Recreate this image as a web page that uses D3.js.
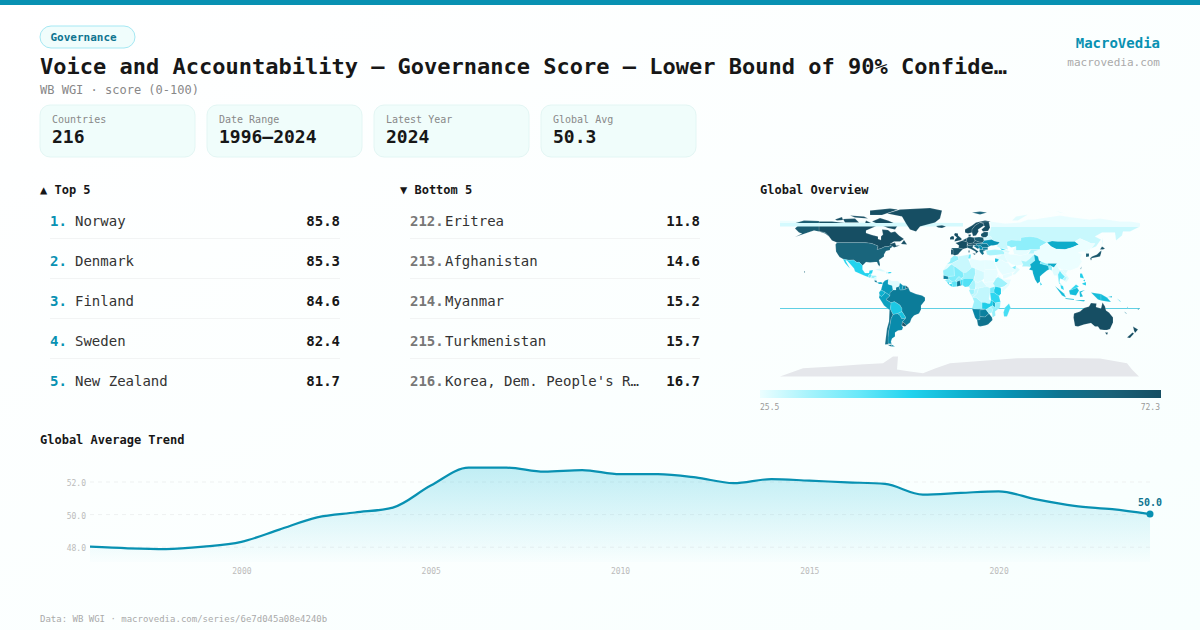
<!DOCTYPE html>
<html><head><meta charset="utf-8">
<script src="https://cdn.jsdelivr.net/npm/d3@7"></script>
<style>
html,body{margin:0;padding:0;width:1200px;height:630px;overflow:hidden;background:#fff}
svg{display:block}
text{font-family:"DejaVu Sans Mono",monospace}
</style></head><body>
<svg id="c" width="1200" height="630"></svg>
<script>
// ---------- data ----------
const statLabels=["Countries","Date Range","Latest Year","Global Avg"];
const statValues=["216","1996–2024","2024","50.3"];
const topRanks=["1.","2.","3.","4.","5."];
const topNames=["Norway","Denmark","Finland","Sweden","New Zealand"];
const topValues=[85.8,85.3,84.6,82.4,81.7];
const bottomRanks=["212.","213.","214.","215.","216."];
const bottomNames=["Eritrea","Afghanistan","Myanmar","Turkmenistan","Korea, Dem. People's R…"];
const bottomValues=[11.8,14.6,15.2,15.7,16.7];
const trendYears=d3.range(1996,2025);
const trendValues=[48.0,47.9,47.85,48.0,48.3,49.05,49.8,50.1,50.4,51.75,52.85,52.85,52.6,52.7,52.45,52.45,52.25,51.9,52.15,52.05,51.95,51.85,51.2,51.3,51.4,50.9,50.5,50.3,50.0];
const trendTicks=[48,50,52];
const yearTicks=[2000,2005,2010,2015,2020];
const legendStops=["#ecfeff","#a5f3fc","#67e8f9","#22d3ee","#0fb2d0","#0891b2","#0e7490","#1b6278","#164e63"];
const scoreRange=[25.5,72.3];

// map: name | score | rings as "lon,lat lon,lat ..."
const bandRows=[
 ["Russia (upper wrap)",25.5,"-180,68.7 -180,70.8 -60,69.5 3,68.7"],
];
const northAmerica=[
 ["Canada",72.3,"-141,70 -128,70 -115,68.6 -108,68.5 -95,68 -94,71 -88,68 -82,69 -81,67 -87,64 -94,61 -94,58.5 -88,56.5 -82,55 -82,52.5 -79,51.5 -79,55 -77,57 -78,62 -72,61.5 -69,59 -65,60 -61,56 -56,52.5 -60,50 -66,50 -70,47.5 -65,49 -64,46 -60,46 -66,44 -67,45 -70,46 -71,45 -75,45 -79,43 -83,42 -82,45.5 -88,48 -95,49 -123,49 -128,51 -131,55 -135,59 -141,60"],
 ["Canada",72.3,"-80,73.5 -72,71 -62,66.5 -65,62 -72,63.5 -78,66 -88,70"],
 ["Canada",72.3,"-117,72.5 -105,73 -101,69 -115,69"],
 ["Canada",72.3,"-90,76.5 -78,76.5 -62,82 -70,83 -90,81"],
 ["Canada",72.3,"-125,72 -118,74.5 -117,71.5 -123,71"],
 ["Canada",72.3,"-110,76 -96,75 -92,73 -105,74"],
 ["Canada",72.3,"-59,47.7 -53,47 -56,51.5"],
 ["United States",68,"-141,70.5 -156,71 -166,68 -162,66 -165,63 -161,59 -158,58 -165,54.5 -152,59 -146,61 -141,60 -135,59 -131,55 -135,58 -141,60"],
 ["United States",65.5,"-123,49 -95,49 -88,48 -82,45.5 -83,42 -79,43 -75,45 -71,45 -70,46 -67,45 -70,43 -70,41.5 -74,40.5 -76,37 -76,35 -81,31.5 -80,27 -80.5,25 -82,27 -83,29.5 -85,29.5 -90,29 -94,29.5 -97.5,26 -101,29.5 -103,29 -106.5,31.7 -111,31.3 -117,32.5 -120.5,34.5 -124,40 -124.5,47"],
 ["United States",65.5,"-156,20.5 -154.8,19.5 -156,18.9"],
];
const bandOver=[
 ["Russia (wrap)",27.5,"-180,65 -180,68.7 3,68.7 3,65"],
];
const countries=[
 ["Greenland",72.3,"-73,78 -60,82 -30,83.6 -18,81 -20,73 -25,69 -40,65 -44,60 -50,62 -54,68 -58,75"],
 ["Iceland",72.3,"-24,65.5 -18,66.4 -14,65 -18,63.5 -22,64"],
 ["Svalbard",66,"12,79 20,80 27,79 20,77"],
 ["Mexico",43,"-117,32.5 -111,31.3 -106.5,31.7 -103,29 -101,29.5 -97.5,26 -97.5,22 -95,18.5 -91,18.5 -90.5,21 -87,21.5 -88,18 -91,17 -92,14.5 -96,16 -105,20 -106,23 -109,26.5 -113,31 -114.5,31 -112,26.5 -110,23 -112,25 -115,28.5"],
 ["Guatemala",38,"-92,14.5 -91,17 -89,17.8 -88.5,16 -90,13.7"],
 ["Honduras",33,"-88.5,16 -84,15.8 -83.2,15 -87,13 -88.5,14"],
 ["Nicaragua",27,"-87,13 -83.2,15 -83.7,11 -85.7,11"],
 ["Costa Rica",60,"-85.7,11 -83.7,11 -82.7,9 -85,9.5"],
 ["Panama",50,"-83,9 -79,9.5 -77.3,8.5 -78,7.5 -81,7.5"],
 ["El Salvador",36,"-90,13.7 -88.5,14 -87.8,13.3"],
 ["Cuba",27,"-85,22 -80,23 -74,20 -78,20"],
 ["Haiti",28,"-74,19.8 -71.7,19.7 -71.7,18.2 -74,18.2"],
 ["Dominican Rep.",43,"-71.7,19.7 -69,19.5 -68.5,18.5 -71.7,18.2"],
 ["Colombia",53,"-77.3,8.5 -75,11 -71.5,12.4 -72,7.5 -67.5,6 -67,1.5 -70,-1 -70,-4.2 -75,-0.5 -79,1.5 -77.5,7"],
 ["Venezuela",26.5,"-71.5,12.4 -68,10.5 -62,10.5 -60,8.5 -61,5 -64,4 -64,1.5 -67,1.5 -67.5,6 -72,7.5"],
 ["Guyana",54,"-60,8.5 -57,6 -58,1.5 -60,1.5 -61,5"],
 ["Suriname",56,"-57,6 -54,5.8 -54.5,2.3 -58,1.5"],
 ["French Guiana",70,"-54,5.8 -51.7,4 -54.5,2.3"],
 ["Ecuador",49,"-79,1.5 -75,-0.5 -75.5,-2 -78.5,-5 -80.5,-3.5 -81,-1"],
 ["Peru",52,"-75,-0.5 -70,-4.2 -74,-8 -69,-11 -69,-12.5 -69.5,-17.5 -70.5,-18.3 -76,-14 -81,-6 -80.5,-3.5 -78.5,-5 -75.5,-2"],
 ["Bolivia",45,"-69,-11 -65.5,-10 -60,-13.5 -58,-17 -58,-20 -62.5,-22 -67,-23 -69,-19 -69.5,-17.5 -69,-12.5"],
 ["Brazil",59,"-51.7,4 -50,0 -44,-2.5 -38,-4 -35,-6 -35,-9 -39,-14 -39,-18 -41,-22 -46,-24 -48.5,-27 -50,-31 -53.5,-33.7 -57.5,-30 -54.7,-27 -54.5,-25.5 -55.5,-24 -58,-20 -58,-17 -60,-13.5 -65.5,-10 -69,-11 -74,-8 -70,-4.2 -70,-1 -67,1.5 -64,1.5 -64,4 -61,5 -60,1.5 -58,1.5 -54.5,2.3"],
 ["Paraguay",46,"-62.5,-22 -58,-20 -55.5,-24 -54.5,-25.5 -54.7,-27 -58.5,-27 -60,-24"],
 ["Uruguay",70,"-57.5,-30 -53.5,-33.7 -55,-35 -58.3,-34"],
 ["Argentina",56,"-67,-23 -62.5,-22 -60,-24 -58.5,-27 -54.7,-27 -57.5,-30 -58.3,-34 -57,-36 -58,-38.5 -62,-39 -65,-41 -65,-45 -68,-47 -69,-50 -68.5,-52.5 -72,-52 -72,-46 -71.5,-40 -70,-33 -69,-27"],
 ["Argentina",56,"-68.5,-52.8 -65,-55 -68.5,-55"],
 ["Chile",62,"-69.5,-17.5 -69,-19 -67,-23 -69,-27 -70,-33 -71.5,-40 -72,-46 -72,-52 -68.5,-52.5 -75,-53 -74,-45 -73,-37 -71,-30 -70.5,-18.3"],
 ["Chile",62,"-72,-54 -68.5,-52.8 -68.5,-55"],
 ["Norway",72.3,"5,59 5,62 12,66 16,69 25,71 31,70 28,69.5 20,69 15,66 12,62 12,59 8,58"],
 ["Sweden",72.3,"12,59 12,62 15,66 20,69 23.5,68 24,66 18,62 18.5,60 16,56 13,55.5"],
 ["Finland",72.3,"23.5,68 20.5,69 28,70 29,69 30,64 28,60.5 23,60 21.5,62 25,65 24,66"],
 ["Denmark",72.3,"8.5,57 11,57 10.5,55 8.5,55"],
 ["United Kingdom",72.3,"-5.5,50 1.5,51.5 1.5,53 -2,56 -2,58 -5,58.5 -6,56.5 -3,54 -5,52"],
 ["Ireland",72.3,"-10,52 -6,52 -6,55 -8,55.5 -10,54"],
 ["France",72.3,"-1.5,43.5 3,42.5 7.5,43.8 7,46 7,48 8,49 6,50 2.5,51 -1.5,49.5 -4.5,48.5 -1,46"],
 ["Spain",70,"-9,43.5 -1.5,43.5 3,42.5 0,39.5 -2,37 -5.5,36 -7,37 -7,42"],
 ["Portugal",71,"-9,42 -7,42 -7,37 -9,37"],
 ["Benelux",72.3,"2.5,51 4,52 7,53.5 6,50"],
 ["Germany",72.3,"7,53.5 9,54.8 14,54 15,51 13,48.5 8,47.7 7,48 8,49 6,50"],
 ["Poland",68,"14,54 19,54.5 23.5,54 24,50.5 22.5,49 19,49.5 15,51"],
 ["Czechia",70,"13,48.5 15,51 19,49.5 22.5,49 22,48 17,48"],
 ["Austria",72.3,"7,46 8,47.7 13,48.5 17,48 16,46.5 10,46.5"],
 ["Italy",69,"7.5,43.8 7,46 13.5,46.5 12.5,44 18.5,40 16,38 15.5,40 11,42.5"],
 ["Italy",69,"12.5,38 15.5,38 15,36.7"],
 ["Italy",69,"8.5,41 9.7,41 9.5,39 8.5,39"],
 ["Hungary",60,"16,46.5 17,48 22,48 22.5,46 18.5,45.8"],
 ["Romania",60,"22,48 27,48 29,45 27.5,44 22.5,44 20.5,46"],
 ["Bulgaria",59,"22.5,44 27.5,44 28,42 23,41.5"],
 ["Serbia",55,"18.5,45.8 20.5,46 22.5,44 22.5,42 20,42 19,44"],
 ["Croatia",61,"13.5,45.5 16,46.5 18.5,45.8 19,44 18,42.5 15,44.5"],
 ["Greece",62,"19.5,42 22.5,42 23,41.5 26,41 23,40 24,38 22.5,36.5 21,38 19.5,40"],
 ["Baltics",70,"21,57.5 24,59.5 28,59.5 28,56 26,54 23.5,54 21,55.5"],
 ["Belarus",27.5,"23.5,54 26,54 28,56 31,55 32,52 24,51"],
 ["Ukraine",54,"24,50.5 24,51 32,52 35,50.5 40,49.5 38,47 33,46 31,46 29,45 27,48 22,48 22.5,49"],
 ["Turkey",31,"26,41 29,41.3 35,42 42,41.3 44.5,39.5 44.5,37 36,36.5 30,36.2 27,37"],
 ["Georgia",42,"40,43.5 46,41.8 42,41.3"],
 ["Azerbaijan",27,"42,41.3 46,41.8 50,40 48,38.5 44.5,39.5"],
 ["Russia",28.5,"28,59.5 28,56 31,55 32,52 35,50.5 40,49.5 38,47 37,45 40,43.5 48,42 47,46 49,46 47,50 51,51.5 61,51 61,54 70,55 77,54 83,51 87,49 92,50.5 98,50 107,50 115,50 120,53 127,50 131,48 135,48 131,43 136,45 141,52 135,55 142,59 155,59 156,51 162,56 163,60 170,60 180,65 31,65 30,60"],
 ["Russia north",25.8,"30,70 45,68 60,69 68,72 75,72 80,73 100,76 113,74 130,72 140,73 160,70 170,70 180,68.5 180,65 31,65"],
 ["Russia north",26.5,"52,71 56,75 68,77 58,71"],
 ["Russia north",26.5,"100,79 105,78 95,81"],
 ["Russia north",26.5,"142,54 143,50 142,46"],
 ["Kazakhstan",33.5,"47,50 51,51.5 61,51 61,54 70,55 77,54 83,51 87,49 80,45 80,42 71,42 66,41 56,41 56,45 51,44 53,42 50,45 47,46"],
 ["Mongolia",50,"87,49 92,50.5 98,50 107,50 115,50 119,47 112,44 105,42 96,42.5 91,45"],
 ["China",25.5,"80,45 87,49 91,45 96,42.5 105,42 112,44 119,47 115,50 120,53 127,50 131,48 135,48 131,43 125,40 122,40 118,39 122,37 120,33 122,30 118,24 110,21 108,21.5 102,22 98,24 97,28 92,28 88,28 86,28 81,30 78,34 74,38 74,40 80,42"],
 ["North Korea",25.5,"125,40 131,43 129,40 127,38 125,38"],
 ["South Korea",68,"126,38 129,38 129,35 126,34.5"],
 ["Japan",70,"130,33 135,34 140,35 141,38 141.5,41 140,40 137,37 132,35"],
 ["Japan",70,"140,42 142,45 145,43 143,42"],
 ["Japan",70,"130,33.5 132,33 131,31"],
 ["Taiwan",62,"120.5,23 121.5,25 121,22"],
 ["Uzbekistan",26,"56,45 56,41 66,41 71,42 67,37.5 61,36 54,37.5 53,42"],
 ["Kyrgyzstan",30,"71,42 80,42 74,40 74,38 68,37"],
 ["Iran",26,"44.5,39.5 48,38.5 50,37 54,37 61,36 61,31 63,27 57,26 52,27 48,30 46,33 44.5,37"],
 ["Afghanistan",26,"61,36 67,37.5 71,38 74,37 70,33 66,30 61,31"],
 ["Pakistan",31,"74,37 78,34 75,31 70,27 71,24.5 67,25 62,25 63,27 61,31 66,30 70,33"],
 ["India",50,"74,37 78,35 79,31 81,30 80,28 88,26 88,28 92,28 97,28 94,24 92,25 90,26 89,22 87,21 82,17 80,15 80,10 77.5,8 75,12 73,18 72.5,21 69,22 71,24.5 70,27 75,31"],
 ["Nepal",35,"81,30 86,28 88,28 88,26 80,28"],
 ["Bangladesh",33,"88,26 90,26 92,25 92,21 89,22"],
 ["Myanmar",26.5,"92,21 94,24 97,28 98,24 100,21 98,17 98.5,11 97,16 94,16"],
 ["Thailand",37,"98,17 100,21 102,18 105,15 102.5,12 100,13 99.5,9 102,6 99,8 98.5,11"],
 ["Laos",26.5,"100,21 102,22 107,16 105,15 102,18"],
 ["Vietnam",26.5,"102,22 108,21.5 106,18 109,13 106,9 105,10.5 107,14 105,15 107,16"],
 ["Cambodia",30,"102.5,12 105,15 107,14 105,10.5"],
 ["Malaysia",42,"100.5,6.5 103,5.5 104,1.5 101,3"],
 ["Malaysia",42,"109.5,1 116,7 119,5 117,4 115,3"],
 ["Indonesia",47,"109,1 110,-3 116,-4 119,1 117,4 115,3"],
 ["Indonesia",47,"95,5.5 104,-2 106,-6 102,-4"],
 ["Indonesia",47,"105,-6.5 114,-7.5 114,-8.5 106,-7.5"],
 ["Indonesia",47,"119.5,0 125,1.5 121,-1 123,-5 120,-5.5"],
 ["Indonesia",47,"131,-1 141,-2.5 141,-9 138,-8 134,-4"],
 ["Indonesia",47,"115,-8.5 125,-8.5 124,-10 117,-9"],
 ["Papua New Guinea",47,"141,-2.5 147,-6 151,-10.5 147,-10 141,-9"],
 ["Papua New Guinea",47,"148,-5.5 152,-4.5 152,-6"],
 ["Philippines",44,"120,18 122,18 124,13 120,14"],
 ["Philippines",44,"122,8 126,9.5 126,6 123,7"],
 ["Philippines",44,"123,11 125,12 125,10"],
 ["Sri Lanka",44,"80,9.5 82,7 80.5,6"],
 ["Solomon Islands",43,"157,-7 161,-10 160,-10"],
 ["Vanuatu",50,"167,-15 168,-17 167,-16.5"],
 ["New Caledonia",60,"164,-20 167,-22 166,-22"],
 ["Fiji",60,"177.5,-17.5 179,-17 178.5,-18.5"],
 ["Australia",72.3,"114,-22 113.5,-26 115,-34.5 118,-35 124,-33 131,-31.5 135,-35 138,-35 140,-38 144,-38.5 147,-38.5 150,-37.5 153,-31 153,-26 149,-21 146,-19 145,-15 142.5,-11 141,-17 136,-15.5 136.5,-12 131,-11.5 129,-15 124,-16.5 120,-20"],
 ["Australia",72.3,"145,-41 148,-41 147,-43.5"],
 ["New Zealand",72.3,"173,-35 178,-38 175,-41.5 174,-39"],
 ["New Zealand",72.3,"172.5,-41 174,-42 170,-46.5 167,-46"],
 ["Saudi Arabia",26,"37,31.5 39,32 42,31.5 46,29 48,29 50,26 52,24 55.5,22 55,20 52,19 44,17 42.5,16.5 39,21 35,28"],
 ["Yemen",26,"43,16.5 52,19 52,16 45,13 43,13"],
 ["Oman",26.5,"56,25 60,22 55,17 52,17 55,20 55.5,22"],
 ["UAE",34,"52,24 56,26 55.5,22"],
 ["Iraq",26.5,"39,32 36,33 42,37 44.5,37 46,33 48,30 46,29 42,31.5"],
 ["Syria",25.5,"36,36.5 42,37 36,33 36,33.3"],
 ["Israel",46,"35,33.3 36,33 39,32 37,29.5 35,29.5"],
 ["Morocco",33,"-6,36 -2,35 -1,32 -8.5,28 -13,27.7 -10,30 -9.5,33"],
 ["Western Sahara",26,"-13,27.7 -8.7,27.3 -13,23 -17,21"],
 ["Algeria",28.5,"-2,35 9,37 8,33 9.5,30 12,24 6,19 3,19 -5,25 -8.7,27.3 -8.5,28 -1,32"],
 ["Tunisia",37,"9,37 11,37 10.5,33 8,33"],
 ["Libya",26,"11,33 15,32 20,31 25,31.5 25,20 24,19.5 15,23 12,24 9.5,30"],
 ["Egypt",26,"25,31.5 34,31 37,22 25,22"],
 ["Mauritania",33,"-17,21 -13,23 -8.7,27.3 -5,25 -6,25 -5.5,15.5 -12,15 -16.5,16"],
 ["Mali",35,"-5,25 3,19 4,15 1,13 -1,15 -3,13 -5,10.5 -8,10 -11.5,12.5 -12,15 -5.5,15.5 -6,25"],
 ["Niger",32,"3,19 6,19 12,24 15,23 15.5,18 14,13 4,13 3,12 1,13 4,15"],
 ["Senegal",58,"-16.5,16 -12,15 -11.5,12.5 -16.5,12.5"],
 ["Guinea",33,"-15,11 -13,12.5 -11.5,12.5 -8,10 -8,8 -10.5,9 -13,9.5"],
 ["Sierra Leone",42,"-13,9.5 -10.5,9 -11.5,7"],
 ["Liberia",42,"-11.5,7 -8,8 -7.5,4.5"],
 ["Ivory Coast",38,"-8,10 -5,10.5 -3,10 -3,5 -7.5,4.5 -8,8"],
 ["Burkina Faso",33,"-5,10.5 -3,13 -1,15 1,13 2,12 0,11 -3,10"],
 ["Ghana",60,"-3,10 0,11 1,6 -3,5"],
 ["Benin",40,"0,11 2,12 3,12 2.7,6.3 1,6"],
 ["Nigeria",39,"3,12 4,13 14,13 13,11 9,5 5,4.5 2.7,6.3"],
 ["Cameroon",31,"14,13 15,10 16,7 15,2 10,2.3 9,5 13,11"],
 ["Chad",27.5,"15,23 24,19.5 24,13 22,11 18,9 15,10 14,13 15.5,18"],
 ["Central African Rep.",27.5,"15,10 18,9 22,11 27,5 19,3.5 16,3"],
 ["Sudan",26,"25,22 37,22 38,18 36,13 33,10 24,9 24,13 24,19.5 25,20"],
 ["South Sudan",26,"24,9 33,10 35,5 30,3.5 27,5 22,11"],
 ["Eritrea",25.5,"37,18 43,12.5 38,14.5"],
 ["Ethiopia",32,"36,13 38,14.5 42.5,12 48,8 44,5 40,4 35,5 33,8"],
 ["Somalia",26,"42.5,12 51,12 49,6 42,-1 41,3 44,5 48,8"],
 ["Kenya",44,"35,5 40,4 41,3 41,-2 39,-4.5 34,-1 34,2"],
 ["Uganda",36,"30,3.5 35,5 34,2 34,-1 30,-1"],
 ["Tanzania",42,"30,-1 34,-1 39,-4.5 40.5,-10.5 35,-11.5 33,-9.5 31,-8.5"],
 ["DR Congo",29,"19,3.5 27,5 30,3.5 30,-1 29,-8 31,-8.5 30,-12 28,-12 25,-11 22,-11 16,-6 12.5,-6 17,-2 18,2"],
 ["Congo",29,"16,3 19,3.5 18,2 17,-2 12.5,-6 11,-3.5 14,-2 14,1.5 15,2"],
 ["Gabon",32,"9,1 10,2.3 15,2 14,1.5 14,-2 11,-3.5"],
 ["Zambia",44,"22,-11 25,-11 28,-12 30,-12 31,-8.5 33,-9.5 33,-14 30,-15.5 26,-18 22,-17"],
 ["Angola",32,"12.5,-6 16,-6 22,-11 22,-17 14,-17.5 12,-17 14,-10"],
 ["Namibia",57,"12,-17 14,-17.5 25,-17.7 20,-18.5 20,-28 17,-28.5 15,-26"],
 ["Botswana",58,"20,-18.5 25,-17.7 26,-18 29,-22 25,-25.5 20,-25"],
 ["South Africa",61,"17,-28.5 20,-28 20,-25 25,-25.5 29,-22 32,-26 32.5,-28.5 28,-33 25,-34 20,-34.8 18,-34"],
 ["Zimbabwe",31,"26,-18 30,-15.5 33,-17 32,-21 29,-22"],
 ["Mozambique",33,"35,-11.5 40.5,-10.5 40,-16 35,-20 35.5,-24 32.5,-26 32,-21 33,-17 30,-15.5 33,-14 35,-16"],
 ["Malawi",50,"33,-9.5 35,-11.5 35,-16 33,-14"],
 ["Madagascar",40,"49,-12 50.5,-16 47,-25 44,-25 43.5,-21 45,-16"],
];
const antarctica="-180,-85 -157,-76.7 -127,-75 -100,-73 -77,-71.7 -67,-65 -62,-65 -63,-78 -50,-80 -37,-81.7 -25,-77 -10,-71.7 20,-69.5 57,-66.7 100,-66.5 140,-67 167,-71.7 172,-78 179,-85";
const fijiStripeRow=[-180,-16.9,180];

// ---------- scene ----------
const svg=d3.select("#c");
const defs=svg.append("defs");
const bg=defs.append("linearGradient").attr("id","bg").attr("x1",0).attr("y1",0).attr("x2",1).attr("y2",1);
bg.append("stop").attr("offset",0).attr("stop-color","#ffffff");
bg.append("stop").attr("offset",1).attr("stop-color","#f8fffe");
svg.append("rect").attr("width",1200).attr("height",630).attr("fill","url(#bg)");
svg.append("rect").attr("width",1200).attr("height",5).attr("fill","#0891b2");

const txt=(x,y,s,size,fill,weight,anchor)=>svg.append("text").attr("x",x).attr("y",y).text(s)
  .attr("font-size",size).attr("fill",fill).attr("font-weight",weight||"normal").attr("text-anchor",anchor||"start");

svg.append("rect").attr("x",40).attr("y",26).attr("width",95).attr("height",22).attr("rx",11)
  .attr("fill","#f0fdfc").attr("stroke","#a5e8f3").attr("stroke-width",1);
txt(50.5,41,"Governance",11,"#0e7490","bold");
txt(40,74,"Voice and Accountability — Governance Score — Lower Bound of 90% Confide…",22,"#171717","bold");
txt(40,94,"WB WGI · score (0-100)",12,"#888888");
txt(1160,48,"MacroVedia",14,"#0891b2","bold","end");
txt(1160,66,"macrovedia.com",11,"#aaaaaa","normal","end");

const cardX=d3.scaleLinear().domain([0,1]).range([40,207]);
statLabels.forEach((l,i)=>{
  const x=cardX(i);
  svg.append("rect").attr("x",x).attr("y",105).attr("width",155).attr("height",52).attr("rx",10)
    .attr("fill","#f0fdfb").attr("stroke","#e3f6f4");
  txt(x+12,123,l,10,"#888888");
  txt(x+12,143,statValues[i],18,"#171717","bold");
});

// ranked lists
const rowY=d3.scaleLinear().domain([0,1]).range([226,266]);
function list(x0,head,ranks,names,vals,rankColor,nameX,right){
  txt(x0,194,head,12,"#171717","bold");
  names.forEach((n,i)=>{
    const y=rowY(i);
    txt(x0+10,y,ranks[i],14,rankColor,"bold");
    txt(nameX,y,n,14,"#333333");
    txt(right,y,vals[i].toFixed(1),14,"#171717","bold","end");
    if(i<names.length-1) svg.append("line").attr("x1",x0+10).attr("x2",right).attr("y1",y+12.5).attr("y2",y+12.5).attr("stroke","#f2f4f4");
  });
}
list(40,"▲ Top 5",topRanks,topNames,topValues,"#0891b2",75,340);
list(400,"▼ Bottom 5",bottomRanks,bottomNames,bottomValues,"#777777",445,700);

// map
txt(760,194,"Global Overview",12,"#171717","bold");
const color=d3.scaleLinear().domain(legendStops.map((_,i)=>scoreRange[0]+(scoreRange[1]-scoreRange[0])*i/(legendStops.length-1))).range(legendStops).clamp(true);
const proj=d3.geoEquirectangular().scale(180/Math.PI).translate([960,291.6]);
const path=d3.geoPath(d3.geoTransform({point(x,y){const p=proj([x,y]);this.stream.point(p[0],p[1]);}}));
const ring=s=>{const r=s.split(" ").map(p=>p.split(",").map(Number));r.push(r[0]);return {type:"Polygon",coordinates:[r]};};
const mapG=svg.append("g");
const drawRows=(rows,stroke)=>mapG.append("g").selectAll("path").data(rows).join("path")
  .attr("d",d=>path(ring(d[2]))).attr("fill",d=>color(d[1]))
  .attr("stroke",stroke).attr("stroke-width",0.35).append("title").text(d=>d[0]);
mapG.append("path").attr("d",path(ring(antarctica))).attr("fill","#e5e7eb");
drawRows(bandRows,"none");
drawRows(northAmerica,"rgba(255,255,255,.45)");
drawRows(bandOver,"none");
mapG.append("line")
  .attr("x1",proj([fijiStripeRow[0],fijiStripeRow[1]])[0]).attr("x2",proj([fijiStripeRow[2],fijiStripeRow[1]])[0])
  .attr("y1",proj([0,fijiStripeRow[1]])[1]).attr("y2",proj([0,fijiStripeRow[1]])[1])
  .attr("stroke","#5fd0e4").attr("stroke-width",1);
drawRows(countries,"rgba(255,255,255,.45)");

// legend
const lg=defs.append("linearGradient").attr("id","lg");
legendStops.forEach((c,i)=>lg.append("stop").attr("offset",i/(legendStops.length-1)).attr("stop-color",c));
svg.append("rect").attr("x",760).attr("y",390).attr("width",401).attr("height",8).attr("fill","url(#lg)");
txt(760,410,scoreRange[0].toFixed(1),8,"#999999");
txt(1160,410,scoreRange[1].toFixed(1),8,"#999999","normal","end");

// trend
txt(40,444,"Global Average Trend",12,"#171717","bold");
const x=d3.scaleLinear().domain([1996,2024]).range([90,1150]);
const y=d3.scaleLinear().domain([48,52]).range([546.7,481.5]);
const base=562;
const ag=defs.append("linearGradient").attr("id","ag").attr("x1",0).attr("y1",0).attr("x2",0).attr("y2",1);
ag.append("stop").attr("offset",0).attr("stop-color","#06b6d4").attr("stop-opacity",.24);
ag.append("stop").attr("offset",1).attr("stop-color","#06b6d4").attr("stop-opacity",.01);
const yAxis=svg.append("g").attr("transform","translate(90,0)")
  .call(d3.axisLeft(y).tickValues(trendTicks).tickFormat(d3.format(".1f")).tickSize(-1060).tickPadding(4));
yAxis.select(".domain").remove();
yAxis.selectAll(".tick line").attr("stroke","#eef1f1").attr("stroke-dasharray","4 4");
yAxis.selectAll("text").attr("font-size",8).attr("fill","#bbbbbb").attr("font-family","DejaVu Sans Mono").attr("dy","0.5em");
const xAxis=svg.append("g").attr("transform","translate(0,564)")
  .call(d3.axisBottom(x).tickValues(yearTicks).tickFormat(d3.format("d")).tickSize(0).tickPadding(4));
xAxis.select(".domain").remove();
xAxis.selectAll("text").attr("font-size",8).attr("fill","#bbbbbb").attr("font-family","DejaVu Sans Mono");
const pts=trendYears.map((t,i)=>[t,trendValues[i]]);
svg.append("path").datum(pts).attr("fill","url(#ag)")
  .attr("d",d3.area().x(d=>x(d[0])).y0(base).y1(d=>y(d[1])).curve(d3.curveMonotoneX));
svg.append("path").datum(pts).attr("fill","none").attr("stroke","#0891b2").attr("stroke-width",2.2)
  .attr("d",d3.line().x(d=>x(d[0])).y(d=>y(d[1])).curve(d3.curveMonotoneX));
const last=pts[pts.length-1];
svg.append("circle").attr("cx",x(last[0])).attr("cy",y(last[1])).attr("r",3.5).attr("fill","#0891b2");
txt(x(last[0]),y(last[1])-8,last[1].toFixed(1),10,"#0e7490","bold","middle");
txt(40,622,"Data: WB WGI · macrovedia.com/series/6e7d045a08e4240b",9,"#aaaaaa");
</script>
</body></html>
